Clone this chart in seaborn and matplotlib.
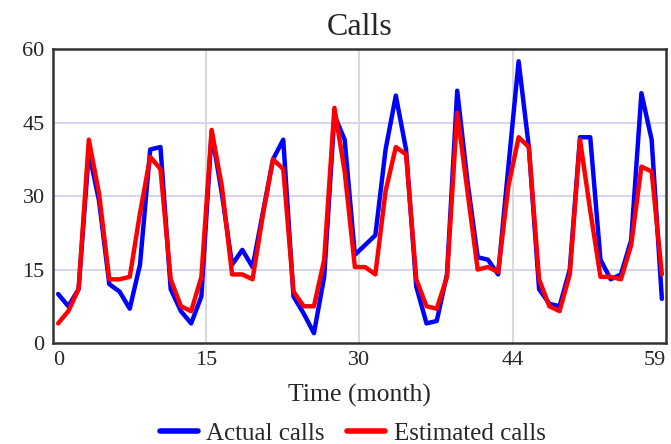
import numpy as np
import pandas as pd
import matplotlib
matplotlib.use('Agg')
import matplotlib.pyplot as plt
import seaborn as sns

# data
months = list(range(60))
actual_calls = [10, 7.5, 11, 39, 29, 12, 10.5, 7, 16, 39.5,
                40, 11, 6.5, 4, 9.5, 43, 30.5, 16, 19, 15.5,
                26.5, 37.5, 41.5, 9.5, 6, 2, 13.5, 46.5, 41.5, 18,
                20, 22, 39.5, 50.5, 39.5, 11.5, 4, 4.5, 14, 51.5,
                33, 17.5, 17, 14, 36, 57.5, 40, 11, 8, 7.5,
                15, 42, 42, 17, 13, 14, 21, 51, 41.5, 9]
estimated_calls = [4, 6.5, 11, 41.5, 30.5, 13, 13, 13.5, 26.5, 38,
                   35.5, 13, 7.5, 6.5, 13.5, 43.5, 32, 14, 14, 13,
                   26, 37.5, 35.5, 10.5, 7.5, 7.5, 17, 48, 35, 15.5,
                   15.5, 14, 31, 40, 38.5, 13, 7.5, 7, 13.5, 47,
                   31, 15, 15.5, 14.5, 32, 42, 40, 13, 7.5, 6.5,
                   14, 41.5, 27, 13.5, 13.5, 13, 20, 36, 35, 14]
series_names = ['Actual calls', 'Estimated calls']
x_tick_labels = ['0', '15', '30', '44', '59']
y_ticks = [0, 15, 30, 45, 60]

df = pd.DataFrame({
    'month': months * 2,
    'calls': actual_calls + estimated_calls,
    'series': [series_names[0]] * 60 + [series_names[1]] * 60,
})

sns.set_theme(style='white')
plt.rcParams['font.family'] = ['Liberation Serif', 'DejaVu Serif']

fig = plt.figure(figsize=(6.71, 4.44), dpi=100)
ax = fig.add_axes([0.079, 0.2275, 0.9135, 0.662])

x_lo, x_hi = -0.5, 59.4
x_ticks = np.linspace(x_lo, x_hi, 5)

# grid lines
for yv in y_ticks[1:-1]:
    ax.axhline(yv, color='#d6d6ee', lw=1.5, zorder=0)
for xv in x_ticks[1:-1]:
    ax.axvline(xv, color='#d9d9d9', lw=1.5, zorder=0)

sns.lineplot(data=df, x='month', y='calls', hue='series', ax=ax,
             palette={series_names[0]: '#0000ff', series_names[1]: '#ff0000'},
             linewidth=3.2, legend=True)
for line in ax.get_lines():
    line.set_solid_joinstyle('round')
    line.set_solid_capstyle('round')

ax.set_xlim(x_lo, x_hi)
ax.set_ylim(0, 60)
ax.set_xticks(x_ticks)
ax.set_xticklabels(x_tick_labels, fontsize=16)
ax.set_yticks(y_ticks)
ax.set_yticklabels([str(v) for v in y_ticks], fontsize=16)
labels = ax.get_xticklabels()
labels[0].set_ha('left')
labels[-1].set_ha('right')
ax.tick_params(axis='x', length=0, pad=6)
ax.tick_params(axis='y', length=0, pad=6)

for s in ax.spines.values():
    s.set_color('#333333')
    s.set_linewidth(1.8)

ax.set_title('Calls', fontsize=23, pad=10)
ax.set_xlabel('Time (month)', fontsize=18.5, labelpad=10)
ax.set_ylabel('')

leg = ax.legend(loc='upper center', bbox_to_anchor=(0.489, -0.235), ncol=2,
                frameon=False, fontsize=18, handlelength=1.5,
                columnspacing=0.9, handletextpad=0.35, borderaxespad=0)
for line in leg.get_lines():
    line.set_linewidth(4)

fig.savefig('out.png', dpi=100)
